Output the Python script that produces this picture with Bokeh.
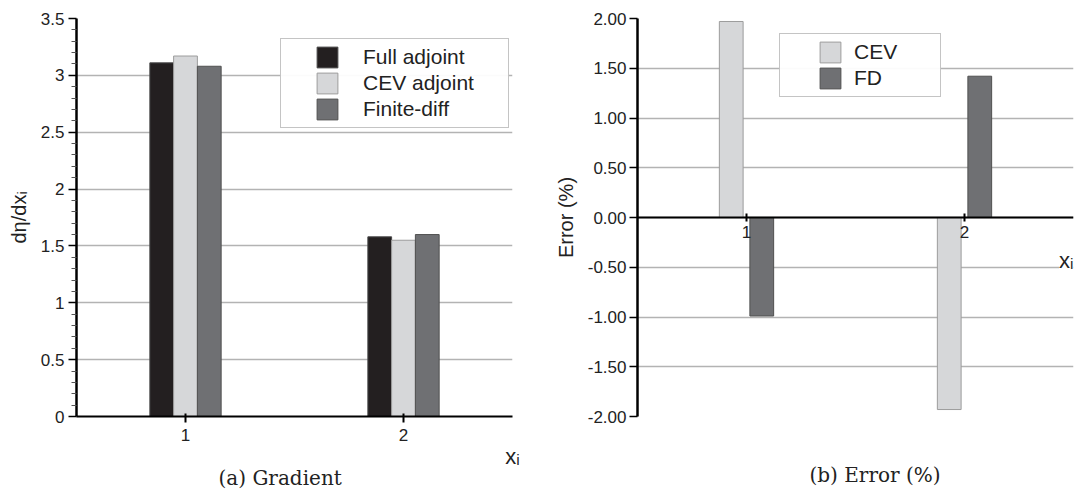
from bokeh.plotting import figure
from bokeh.models import (Range1d, FactorRange, ColumnDataSource, Legend, LegendItem,
                          FixedTicker, Title, Label, LinearAxis)
from bokeh.layouts import row
from bokeh.transform import dodge
from bokeh.embed import file_html
from bokeh.resources import INLINE

# ---------------- data ----------------
x_cats = ["1", "2"]

full_adjoint = [3.11, 1.58]
cev_adjoint = [3.17, 1.55]
finite_diff = [3.08, 1.60]
grad_ticks = [0, 0.5, 1, 1.5, 2, 2.5, 3, 3.5]
grad_tick_labels = ["0", "0.5", "1", "1.5", "2", "2.5", "3", "3.5"]
grad_minor = [0.1, 0.2, 0.3, 0.4, 0.6, 0.7, 0.8, 0.9, 1.1, 1.2, 1.3, 1.4, 1.6, 1.7, 1.8, 1.9,
              2.1, 2.2, 2.3, 2.4, 2.6, 2.7, 2.8, 2.9, 3.1, 3.2, 3.3, 3.4]

err_cev = [1.97, -1.93]
err_fd = [-0.99, 1.42]
err_ticks = [-2, -1.5, -1, -0.5, 0, 0.5, 1, 1.5, 2]
err_tick_labels = ["-2.00", "-1.50", "-1.00", "-0.50", "0.00", "0.50", "1.00", "1.50", "2.00"]

# ---------------- style ----------------
SANS = "Liberation Sans"
SERIF = "DejaVu Serif"
C_FULL, L_FULL = "#231f20", "#4a4a4a"
C_CEV, L_CEV = "#d6d7d9", "#9c9c9c"
C_FD, L_FD = "#6f7073", "#505050"
GRID = "#b3b3b3"
TXT = "#222222"
BW = 0.109


def style_common(p):
    p.outline_line_color = None
    p.background_fill_color = "white"
    p.border_fill_color = "white"
    p.xgrid.grid_line_color = None
    p.ygrid.grid_line_color = GRID
    p.ygrid.grid_line_width = 1.5
    for ax in list(p.xaxis) + list(p.yaxis):
        ax.axis_line_color = "black"
        ax.major_tick_line_color = "black"
        ax.major_label_text_font = SANS
        ax.major_label_text_font_size = "17px"
        ax.major_label_text_color = TXT
        ax.axis_label_text_font = SANS
        ax.axis_label_text_font_style = "normal"
        ax.axis_label_text_color = TXT


# ---------------- (a) Gradient ----------------
p1 = figure(width=540, height=497,
            x_range=FactorRange(factors=x_cats), y_range=Range1d(0, 3.5),
            output_backend="svg", toolbar_location=None,
            min_border_left=76, min_border_right=28, min_border_top=18, min_border_bottom=81)
style_common(p1)

src1 = ColumnDataSource(dict(x=x_cats, full=full_adjoint, cev=cev_adjoint, fd=finite_diff))
r_full = p1.vbar(x=dodge("x", -BW, range=p1.x_range), top="full", width=BW, source=src1,
                 fill_color=C_FULL, line_color=L_FULL, line_width=1)
r_cev = p1.vbar(x=dodge("x", 0, range=p1.x_range), top="cev", width=BW, source=src1,
                fill_color=C_CEV, line_color=L_CEV, line_width=1)
r_fd = p1.vbar(x=dodge("x", BW, range=p1.x_range), top="fd", width=BW, source=src1,
               fill_color=C_FD, line_color=L_FD, line_width=1)

yt1 = FixedTicker(ticks=grad_ticks, minor_ticks=grad_minor)
p1.yaxis.ticker = yt1
p1.ygrid.ticker = yt1
p1.yaxis.major_label_overrides = dict(zip(grad_ticks, grad_tick_labels))
p1.yaxis.axis_line_width = 2.5
p1.yaxis.major_tick_line_width = 1.5
p1.yaxis.major_tick_in = 0
p1.yaxis.major_tick_out = 8
p1.yaxis.minor_tick_in = 0
p1.yaxis.minor_tick_out = 5
p1.yaxis.minor_tick_line_color = "#555555"
p1.yaxis.major_label_standoff = 4
p1.yaxis.axis_label = "dη/dxᵢ"
p1.yaxis.axis_label_text_font_size = "20px"
p1.yaxis.axis_label_standoff = 8

p1.xaxis.axis_line_width = 2
p1.xaxis.major_tick_line_width = 2
p1.xaxis.major_tick_in = 3
p1.xaxis.major_tick_out = 6
p1.xaxis.major_label_standoff = 6
p1.xaxis.axis_label = "xᵢ"
p1.xaxis.axis_label_text_font_size = "22px"
p1.xaxis.axis_label_standoff = 0
p1.xaxis.axis_label_align = "end"

leg1 = Legend(items=[LegendItem(label="Full adjoint", renderers=[r_full]),
                     LegendItem(label="CEV adjoint", renderers=[r_cev]),
                     LegendItem(label="Finite-diff", renderers=[r_fd])],
              location=(204, 288), orientation="vertical", margin=0, padding=5, spacing=0,
              glyph_width=26, glyph_height=26, label_height=26, label_width=140,
              label_standoff=23, label_text_font=SANS, label_text_font_size="21px",
              label_text_color=TXT,
              border_line_color="#8a8a8a", border_line_width=1, background_fill_color="white",
              title=" ", title_location="left", title_standoff=27, title_text_font_size="1px")
p1.add_layout(leg1, "center")

cap1 = Title(text="(a) Gradient", align="left", text_font=SERIF, text_font_size="20px",
             text_font_style="normal", text_color=TXT, standoff=-15, offset=142)
p1.add_layout(cap1, "below")

# ---------------- (b) Error (%) ----------------
p2 = figure(width=537, height=497,
            x_range=FactorRange(factors=x_cats), y_range=Range1d(-2, 2),
            output_backend="svg", toolbar_location=None,
            min_border_left=97, min_border_right=4, min_border_top=18, min_border_bottom=81)
style_common(p2)

src2 = ColumnDataSource(dict(x=x_cats, cev=err_cev, fd=err_fd))
r2_cev = p2.vbar(x=dodge("x", -0.07, range=p2.x_range), top="cev", bottom=0, width=BW, source=src2,
                 fill_color=C_CEV, line_color=L_CEV, line_width=1)
r2_fd = p2.vbar(x=dodge("x", 0.07, range=p2.x_range), top="fd", bottom=0, width=BW, source=src2,
                fill_color=C_FD, line_color=L_FD, line_width=1)

yt2 = FixedTicker(ticks=err_ticks, minor_ticks=[])
p2.yaxis.ticker = yt2
p2.ygrid.ticker = yt2
p2.yaxis.major_label_overrides = dict(zip(err_ticks, err_tick_labels))
p2.yaxis.axis_line_width = 2.5
p2.yaxis.major_tick_line_width = 1.5
p2.yaxis.major_tick_in = 0
p2.yaxis.major_tick_out = 8
p2.yaxis.minor_tick_line_color = None
p2.yaxis.major_label_standoff = 3
p2.yaxis.axis_label = "Error (%)"
p2.yaxis.axis_label_text_font_size = "20px"
p2.yaxis.axis_label_standoff = 8

p2.xaxis.fixed_location = 0
p2.xaxis.axis_line_width = 2
p2.xaxis.major_tick_line_width = 2
p2.xaxis.major_tick_in = 4
p2.xaxis.major_tick_out = 4
p2.xaxis.major_label_standoff = 4

xlab2 = Label(x=2.0, y=-0.43, text="xᵢ", text_align="right",
              text_baseline="alphabetic", text_font=SANS, text_font_size="22px", text_color=TXT,
              background_fill_color="white")
p2.add_layout(xlab2)

leg2 = Legend(items=[LegendItem(label="CEV", renderers=[r2_cev]),
                     LegendItem(label="FD", renderers=[r2_fd])],
              location=(142, 319), orientation="vertical", margin=0, padding=5, spacing=0,
              glyph_width=26, glyph_height=26, label_height=26, label_width=81,
              label_standoff=11, label_text_font=SANS, label_text_font_size="21px",
              label_text_color=TXT,
              border_line_color="#8a8a8a", border_line_width=1, background_fill_color="white",
              title=" ", title_location="left", title_standoff=31, title_text_font_size="1px")
p2.add_layout(leg2, "center")

# invisible spacer axis below the frame, so the caption sits at the same height as (a)
spacer = LinearAxis(ticker=FixedTicker(ticks=[1.0], minor_ticks=[]), axis_line_color=None,
                    major_tick_line_color=None, major_tick_in=0, major_tick_out=44,
                    minor_tick_in=0, minor_tick_out=0, major_label_standoff=0,
                    major_label_overrides={1.0: ""})
p2.add_layout(spacer, "below")

cap2 = Title(text="(b) Error (%)", align="left", text_font=SERIF, text_font_size="20px",
             text_font_style="normal", text_color=TXT, standoff=0, offset=172)
p2.add_layout(cap2, "below")

layout = row(p1, p2)
open("out.html", "w").write(file_html(layout, INLINE))
